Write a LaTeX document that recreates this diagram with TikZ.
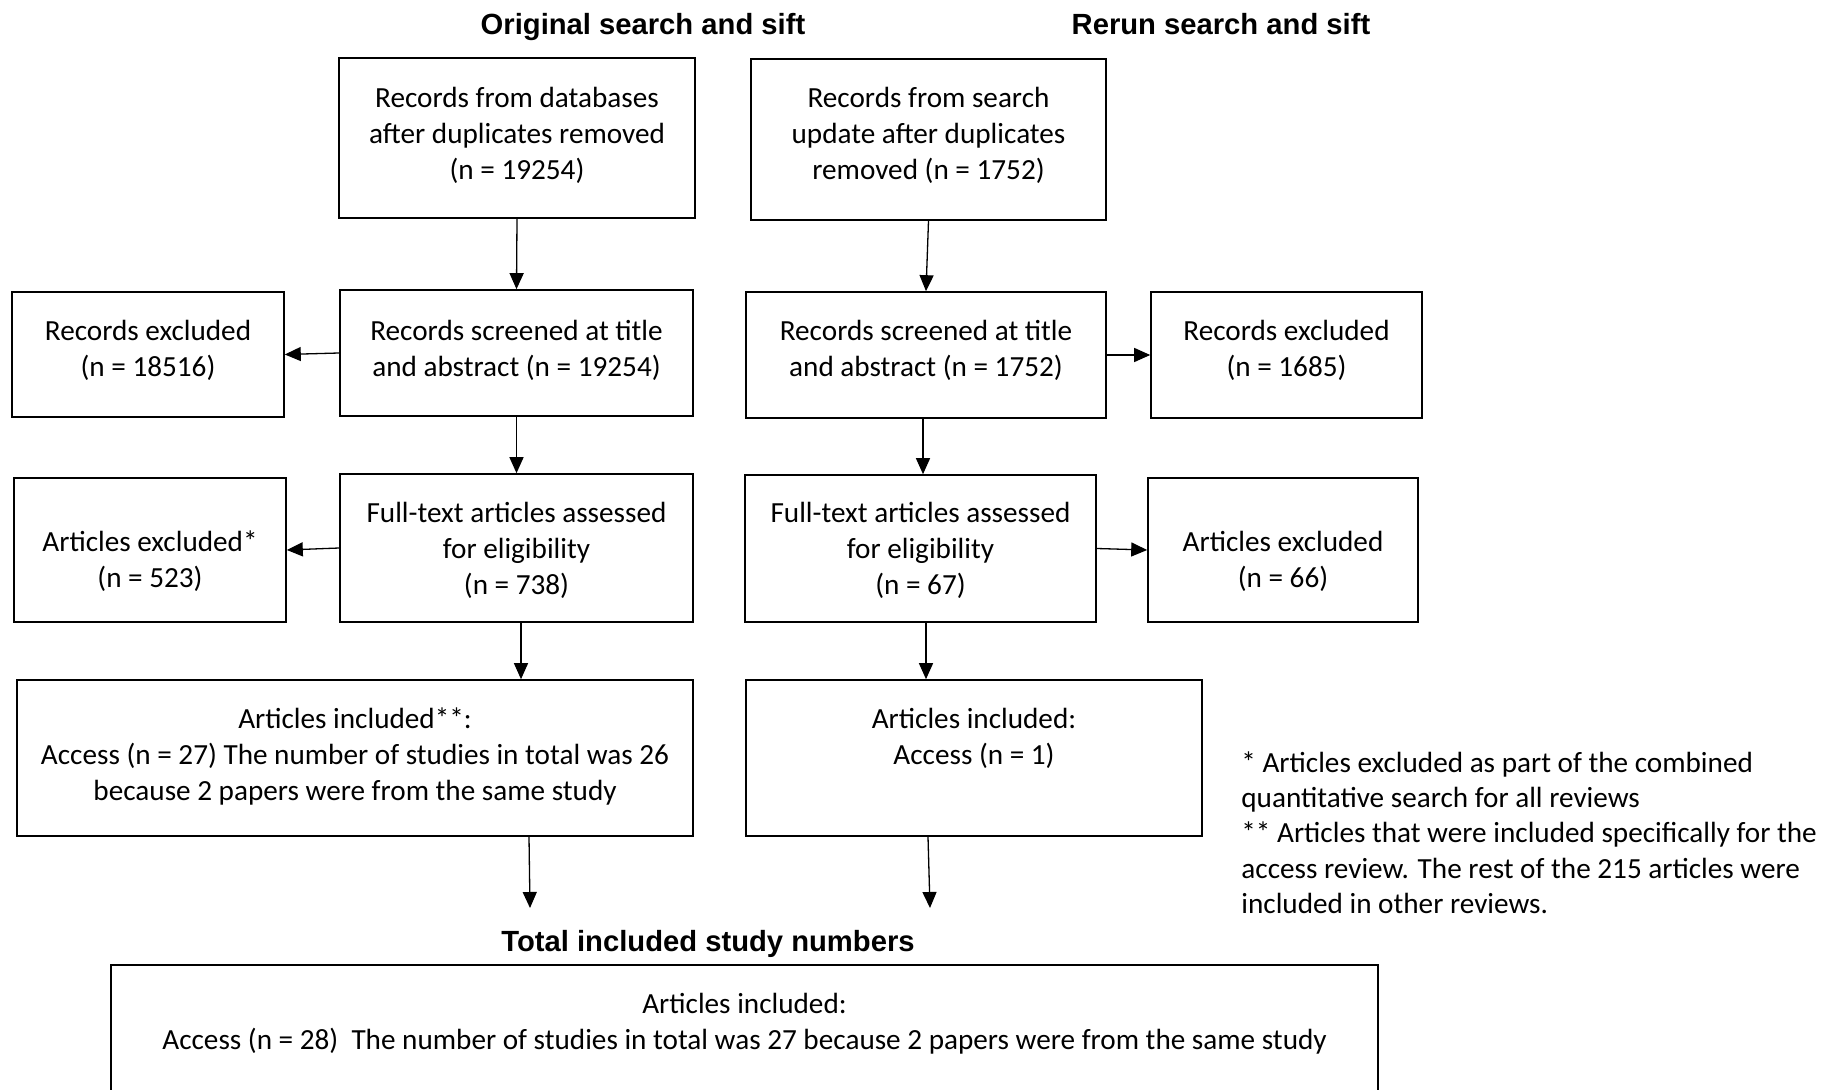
\documentclass[tikz,border=0pt]{standalone}
\usepackage{fontspec}
\setmainfont{Carlito}
\newfontfamily\titlefont{Liberation Sans}
\usetikzlibrary{arrows.meta}
\newcommand\bodyfont{\fontsize{14.6}{18}\selectfont}
\newcommand\tx[2]{\raisebox{#1}[\height][\depth]{\begin{tabular}{@{}c@{}}#2\end{tabular}}}
\begin{document}
\begin{tikzpicture}[x=0.5pt,y=-0.5pt,
  box/.style={draw, line width=0.8pt, inner sep=0pt, align=center, font=\bodyfont},
  arr/.style={-{Triangle[length=8pt,width=7pt]}, line width=0.65pt},
  ttl/.style={font=\titlefont\bfseries\fontsize{14.6}{18}\selectfont, inner sep=0pt, anchor=base}]
\clip (0,0) rectangle (1825,1090);
\fill[white] (0,0) rectangle (1825,1090);

\node[ttl] (t1) at (643,35) {Original search and sift};
\node[ttl] (t2) at (1221,35) {Rerun search and sift};
\node[ttl] (t3) at (708,951) {Total included study numbers};

\node[box, minimum width=178pt, minimum height=80pt] (A) at (517,138) {\tx{0.8pt}{Records from databases\\after duplicates removed\\(n = 19254)}};
\node[box, minimum width=177.5pt, minimum height=80.5pt] (B) at (928.5,139.5) {\tx{1.5pt}{Records from search\\update after duplicates\\removed (n = 1752)}};
\node[box, minimum width=136pt, minimum height=62.5pt] (C) at (148,354.5) {\tx{1.75pt}{Records excluded\\(n = 18516)}};
\node[box, minimum width=176.5pt, minimum height=63pt] (D) at (516.5,353) {\tx{0.8pt}{Records screened at title\\and abstract (n = 19254)}};
\node[box, minimum width=180pt, minimum height=63pt] (E) at (926,355) {\tx{1.8pt}{Records screened at title\\and abstract (n = 1752)}};
\node[box, minimum width=135.5pt, minimum height=63pt] (F) at (1286.5,355) {\tx{1.8pt}{Records excluded\\(n = 1685)}};
\node[box, minimum width=136pt, minimum height=72pt] (G) at (150,550) {\tx{-6.2pt}{Articles excluded*\\(n = 523)}};
\node[box, minimum width=176.5pt, minimum height=74pt] (H) at (516.5,548) {\tx{-1.6pt}{Full-text articles assessed\\for eligibility\\(n = 738)}};
\node[box, minimum width=175.5pt, minimum height=73.5pt] (I) at (920.5,548.5) {\tx{-1.6pt}{Full-text articles assessed\\for eligibility\\(n = 67)}};
\node[box, minimum width=135pt, minimum height=72pt] (J) at (1283,550) {\tx{-6.2pt}{Articles excluded\\(n = 66)}};
\node[box, minimum width=338pt, minimum height=78pt] (K) at (355,758) {\tx{0.2pt}{Articles included**:\\Access (n = 27) The number of studies in total was 26\\because 2 papers were from the same study}};
\node[box, minimum width=228pt, minimum height=78pt] (L) at (974,758) {\tx{0.6pt}{Articles included:\\Access (n = 1)\\\strut}};
\node[box, minimum width=633.5pt, minimum height=72.5pt] (M) at (744.5,1037.5) {\tx{-2.5pt}{Articles included:\\Access (n = 28)\ \ The number of studies in total was 27 because 2 papers were from the same study\\\strut}};

\node[font=\fontsize{14.6}{17.7}\selectfont, align=left, anchor=north west, inner sep=0pt] (fn) at (1241,751) {* Articles excluded as part of the combined\\quantitative search for all reviews\\** Articles that were included specifically for the\\access review. The rest of the 215 articles were\\included in other reviews.};

\coordinate (k1) at (530,908);
\coordinate (l1) at (930,908);

\draw[arr] (A.south) -- (D.north);
\draw[arr] (B.south) -- (E.north);
\draw[arr] (D.west) -- (C.east);
\draw[arr] (E.east) -- (F.west);
\draw[arr] (D.south) -- (H.north);
\draw[arr] (E.south -| 923,0) -- (I.north -| 923,0);
\draw[arr] (H.west) -- (G.east);
\draw[arr] (I.east) -- (J.west);
\draw[arr] (H.south -| 521,0) -- (K.north -| 521,0);
\draw[arr] (I.south -| 926,0) -- (L.north -| 926,0);
\draw[arr] (K.south -| 529,0) -- (k1);
\draw[arr] (L.south -| 928,0) -- (l1);
\end{tikzpicture}
\end{document}
